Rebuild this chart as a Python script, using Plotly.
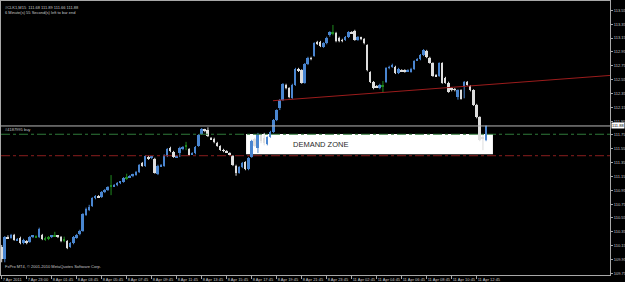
import plotly.graph_objects as go

# ---------------- data ----------------
open_ = [110.13,109.96,110.28,110.26,110.30,110.23,110.26,110.19,110.22,110.20,
         110.28,110.28,110.28,110.30,110.25,110.26,110.28,110.29,110.29,110.28,
         110.23,110.22,110.13,110.19,110.26,110.32,110.36,110.59,110.67,110.72,
         110.84,110.87,110.85,110.93,110.95,111.01,111.01,111.03,111.06,111.07,
         111.13,111.14,111.16,111.17,111.21,111.35,111.30,111.43,111.42,111.40,
         111.19,111.30,111.30,111.45,111.56,111.50,111.43,111.49,111.55,111.59,
         111.55,111.47,111.49,111.59,111.76,111.82,111.82,111.71,111.69,111.63,
         111.59,111.53,111.52,111.49,111.45,111.30,111.20,111.29,111.36,111.26,
         111.43,111.69,111.56,111.75,111.71,111.62,111.72,111.79,111.97,112.14,
         112.26,112.47,112.43,112.28,112.47,112.70,112.69,112.50,112.78,112.86,
         112.89,113.09,113.09,113.02,113.08,113.19,113.22,113.22,113.15,113.12,
         113.12,113.17,113.24,113.25,113.12,113.15,113.14,113.05,112.66,112.52,
         112.46,112.43,112.46,112.52,112.72,112.73,112.73,112.65,112.69,112.69,
         112.67,112.66,112.70,112.83,112.85,112.91,112.96,112.86,112.79,112.62,
         112.60,112.79,112.57,112.50,112.43,112.41,112.30,112.40,112.44,112.52,
         112.46,112.40,112.18,112.01,111.72,111.68]
high = [110.16,110.29,110.30,110.32,110.32,110.26,110.28,110.25,110.23,110.29,
        110.30,110.30,110.41,110.32,110.28,110.29,110.30,110.35,110.30,110.29,
        110.28,110.23,110.20,110.29,110.32,110.38,110.62,110.70,110.74,110.85,
        110.88,110.88,110.94,110.97,111.01,111.17,111.04,111.07,111.08,111.14,
        111.19,111.17,111.19,111.23,111.33,111.36,111.46,111.45,111.44,111.42,
        111.32,111.33,111.47,111.56,111.58,111.52,111.46,111.58,111.59,111.65,
        111.56,111.50,111.59,111.76,111.85,111.84,111.86,111.72,111.71,111.65,
        111.60,111.55,111.53,111.50,111.46,111.32,111.30,111.36,111.37,111.43,
        111.68,111.71,111.78,111.76,111.78,111.73,111.81,111.98,112.12,112.27,
        112.50,112.49,112.44,112.49,112.72,112.72,112.70,112.79,112.88,112.88,
        113.09,113.11,113.11,113.09,113.17,113.25,113.34,113.24,113.17,113.14,
        113.18,113.25,113.25,113.27,113.18,113.17,113.15,113.06,112.67,112.53,
        112.47,112.49,112.53,112.73,112.75,112.78,112.75,112.72,112.70,112.70,
        112.70,112.72,112.83,112.86,112.92,112.99,112.98,112.88,112.80,112.63,
        112.80,112.80,112.59,112.52,112.44,112.43,112.41,112.41,112.53,112.53,
        112.47,112.41,112.20,112.02,111.76,111.89]
low = [109.91,109.91,110.25,110.25,110.22,110.22,110.17,110.17,110.17,110.19,
       110.26,110.26,110.26,110.23,110.22,110.23,110.26,110.28,110.26,110.20,
       110.20,110.10,110.12,110.17,110.25,110.30,110.35,110.58,110.65,110.71,
       110.82,110.84,110.84,110.91,110.94,110.88,111.00,111.01,111.04,111.06,
       111.10,111.13,111.14,111.16,111.20,111.29,111.29,111.39,111.40,111.19,
       111.17,111.29,111.29,111.43,111.50,111.42,111.42,111.43,111.53,111.53,
       111.45,111.46,111.47,111.58,111.75,111.79,111.72,111.68,111.63,111.58,
       111.52,111.50,111.49,111.45,111.30,111.16,111.19,111.27,111.24,111.24,
       111.42,111.58,111.49,111.63,111.60,111.60,111.71,111.78,111.95,112.11,
       112.24,112.41,112.28,112.27,112.46,112.66,112.49,112.49,112.76,112.83,
       112.88,113.05,113.02,113.01,113.06,113.17,113.19,113.09,113.09,113.09,
       113.11,113.15,113.21,113.11,113.11,113.12,113.06,112.67,112.50,112.41,
       112.43,112.41,112.37,112.50,112.70,112.72,112.63,112.63,112.66,112.65,
       112.66,112.65,112.69,112.82,112.83,112.89,112.86,112.78,112.59,112.59,
       112.59,112.49,112.49,112.36,112.38,112.38,112.26,112.26,112.28,112.46,
       112.38,112.17,111.99,111.66,111.53,111.66]
close = [109.96,110.28,110.26,110.30,110.23,110.25,110.19,110.23,110.19,110.28,
         110.29,110.28,110.39,110.25,110.25,110.26,110.29,110.29,110.28,110.22,
         110.23,110.12,110.19,110.28,110.30,110.36,110.61,110.68,110.71,110.84,
         110.87,110.85,110.93,110.95,111.00,111.01,111.03,111.06,111.07,111.13,
         111.13,111.16,111.17,111.21,111.32,111.30,111.45,111.40,111.43,111.20,
         111.30,111.32,111.46,111.55,111.52,111.43,111.45,111.56,111.58,111.59,
         111.46,111.49,111.58,111.75,111.84,111.81,111.73,111.69,111.65,111.59,
         111.53,111.52,111.50,111.46,111.32,111.20,111.29,111.35,111.26,111.42,
         111.66,111.59,111.76,111.66,111.63,111.72,111.79,111.97,112.11,112.26,
         112.49,112.43,112.30,112.47,112.70,112.67,112.50,112.78,112.86,112.85,
         113.08,113.06,113.04,113.08,113.15,113.24,113.22,113.11,113.11,113.11,
         113.17,113.24,113.22,113.12,113.17,113.14,113.08,112.69,112.52,112.43,
         112.44,112.47,112.46,112.72,112.73,112.76,112.65,112.70,112.67,112.66,
         112.69,112.70,112.82,112.85,112.91,112.98,112.88,112.79,112.60,112.60,
         112.79,112.50,112.50,112.37,112.40,112.40,112.40,112.27,112.52,112.47,
         112.40,112.18,112.01,111.68,111.69,111.88]

tick_labels = ["7 Apr 2011", "7 Apr 23:00", "8 Apr 01:45", "8 Apr 03:45", "8 Apr 05:45",
               "8 Apr 07:45", "8 Apr 09:45", "8 Apr 11:45", "8 Apr 13:45", "8 Apr 15:45",
               "8 Apr 17:45", "8 Apr 19:45", "8 Apr 21:45", "8 Apr 23:45", "11 Apr 02:45",
               "11 Apr 04:45", "11 Apr 06:45", "11 Apr 08:45", "11 Apr 10:45", "11 Apr 12:45"]
tick_bars = [0, 8, 16, 24, 32, 40, 48, 56, 64, 72, 80, 88, 96, 104, 112, 120, 128, 136, 144, 152]
price_ticks = [109.75, 109.95, 110.15, 110.35, 110.55, 110.75, 110.95, 111.15, 111.35, 111.55,
               111.75, 111.95, 112.15, 112.35, 112.55, 112.75, 112.95, 113.15, 113.35, 113.55]

order_price = 111.76
stop_price = 111.45
zone_bars = [78.2, 157.2]
zone_prices = [111.47, 111.764]
trend_bars = [86.8, 194.66]
trend_prices = [112.245, 112.61]
symbol = "#CLK1,M15"

# ---------------- figure ----------------
BLUE = "#4a86d0"
WHITE = "#dedede"
GREEN = "#1f8a1f"
AXIS = "#a8a8a8"
TXT = "#c8c8c8"
n = len(close)
x = list(range(n))

fig = go.Figure()

def add_group(idx, color):
    wx, wy = [], []
    for i in idx:
        wx += [x[i], x[i], None]
        wy += [low[i], high[i], None]
    fig.add_trace(go.Scatter(x=wx, y=wy, mode="lines", line=dict(color=color, width=1),
                             hoverinfo="skip"))

up = [i for i in x if close[i] > open_[i]]
dn = [i for i in x if close[i] < open_[i]]
dj = [i for i in x if close[i] == open_[i]]

add_group(up, BLUE)
add_group(dn, WHITE)
add_group(dj, GREEN)

for idx, color in ((up, BLUE), (dn, WHITE)):
    fig.add_trace(go.Bar(
        x=[x[i] for i in idx],
        base=[min(open_[i], close[i]) for i in idx],
        y=[max(abs(close[i] - open_[i]), 0.012) for i in idx],
        width=0.62, marker=dict(color=color, line=dict(width=0)), hoverinfo="skip"))
fig.add_trace(go.Bar(
    x=[x[i] for i in dj], base=[open_[i] - 0.006 for i in dj], y=[0.012] * len(dj),
    width=0.62, marker=dict(color=GREEN, line=dict(width=0)), hoverinfo="skip"))

# trend line
fig.add_trace(go.Scatter(x=trend_bars, y=trend_prices, mode="lines",
                         line=dict(color="#9b1c1c", width=1), hoverinfo="skip"))

shapes = [
    dict(type="rect", xref="x", yref="y", x0=zone_bars[0], x1=zone_bars[1],
         y0=zone_prices[0], y1=zone_prices[1], fillcolor="white",
         line=dict(width=0), layer="below"),
    dict(type="line", xref="paper", yref="y", x0=0, x1=1, y0=order_price, y1=order_price,
         line=dict(color="#2f7a3a", width=1, dash="dashdot"), layer="above"),
    dict(type="line", xref="paper", yref="y", x0=0, x1=1, y0=stop_price, y1=stop_price,
         line=dict(color="#8a1e1e", width=1, dash="dashdot"), layer="above"),
    dict(type="line", xref="paper", yref="y", x0=0, x1=1, y0=close[-1], y1=close[-1],
         line=dict(color="#b8b8b8", width=1), layer="above"),
]

small = dict(family="Liberation Sans, Arial, sans-serif", size=4, color=TXT)
annotations = [
    dict(xref="paper", yref="paper", x=0.004, y=0.993, xanchor="left", yanchor="top",
         text=f"{symbol}  {open_[-1]:.2f} {high[-1]:.2f} {low[-1]:.2f} {close[-1]:.2f}",
         showarrow=False, font=small),
    dict(xref="paper", yref="paper", x=0.004, y=0.975, xanchor="left", yanchor="top",
         text="6 Minute(s) 55 Second(s) left to bar end", showarrow=False, font=small),
    dict(xref="paper", yref="paper", x=0.004, y=0.015, xanchor="left", yanchor="bottom",
         text="FxPro MT4, © 2001-2010 MetaQuotes Software Corp.", showarrow=False, font=small),
    dict(xref="paper", yref="y", x=0.004, y=order_price, xanchor="left", yanchor="bottom",
         text="#4187995 buy", showarrow=False, font=small),
    dict(xref="x", yref="y", x=101.9, y=111.605, text="DEMAND ZONE", showarrow=False,
         font=dict(family="Liberation Sans, Arial, sans-serif", size=7.5, color="#2a2a2a")),
    dict(xref="paper", yref="y", x=1.002, y=close[-1], xanchor="left", yanchor="middle",
         text=f"{close[-1]:.2f}", showarrow=False, bgcolor="white", borderpad=0,
         font=dict(family="Liberation Sans, Arial, sans-serif", size=4, color="black")),
]

fig.update_layout(
    width=625, height=282,
    margin=dict(l=1, r=15, t=1, b=7, autoexpand=False),
    paper_bgcolor="black", plot_bgcolor="black",
    showlegend=False, barmode="overlay", bargap=0,
    shapes=shapes, annotations=annotations,
    xaxis=dict(range=[-0.22, 194.66], tickvals=tick_bars, ticktext=tick_labels,
               tickangle=0, automargin=False,
               ticklabelposition="outside right", ticks="outside", ticklen=3,
               tickcolor=AXIS, showline=True, linecolor=AXIS, linewidth=1, mirror=True,
               showgrid=False, zeroline=False, tickfont=small, fixedrange=True),
    yaxis=dict(range=[109.726, 113.686], side="right", tickvals=price_ticks,
               ticktext=[f"{v:.2f}" for v in price_ticks], ticks="outside", ticklen=2,
               automargin=False,
               tickcolor=AXIS, showline=True, linecolor=AXIS, linewidth=1, mirror=True,
               showgrid=False, zeroline=False, tickfont=small, fixedrange=True),
)

fig.write_html("out.html", config={"displayModeBar": False})
